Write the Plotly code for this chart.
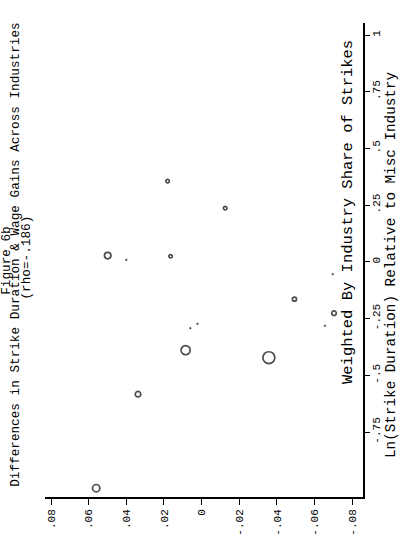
import plotly.graph_objects as go

# Data read from the (rotated) reference chart
wage_gain = [0.0560, 0.0338, 0.0085, -0.0357, -0.0493, -0.0703, -0.0125, 0.0181, 0.0165, 0.0499,
             0.0400, 0.0060, 0.0022, -0.0696, -0.0655]
ln_duration = [-0.997, -0.583, -0.389, -0.422, -0.164, -0.226, 0.237, 0.356, 0.025, 0.028,
               0.009, -0.292, -0.273, -0.054, -0.281]
strike_share = [0.064, 0.036, 0.100, 0.170, 0.020, 0.025, 0.014, 0.014, 0.014, 0.050,
                0.003, 0.003, 0.003, 0.003, 0.003]

wage_ticks = [0.08, 0.06, 0.04, 0.02, 0, -0.02, -0.04, -0.06, -0.08]
wage_ticktext = [".08", ".06", ".04", ".02", "0", "-.02", "-.04", "-.06", "-.08"]
dur_ticks = [1, 0.75, 0.5, 0.25, 0, -0.25, -0.5, -0.75]
dur_ticktext = ["1", ".75", ".5", ".25", "0", "-.25", "-.5", "-.75"]

title_lines = ["Figure 6b",
               "Differences in Strike Duration & Wage Gains Across Industries",
               "(rho=-.186)"]
x_title = "Ln(Strike Duration) Relative to Misc Industry"
weight_note = "Weighted By Industry Share of Strikes"

FONT = "Liberation Mono"

line_w = [1.7 if s > 0.005 else 0.8 for s in strike_share]
fill = ["white" if s > 0.005 else "black" for s in strike_share]

fig = go.Figure()
fig.add_trace(go.Scatter(
    x=wage_gain, y=ln_duration, mode="markers",
    marker=dict(size=strike_share, sizemode="area", sizeref=0.0024,
                color=fill, line=dict(color="black", width=line_w)),
    showlegend=False, hoverinfo="skip"))

fig.update_layout(
    template="none",
    width=401, height=542,
    margin=dict(l=45, r=38, t=23, b=45, autoexpand=False),
    paper_bgcolor="white", plot_bgcolor="white",
    font=dict(family=FONT, color="black", size=13),
    xaxis=dict(range=[0.0832, -0.0857], tickvals=wage_ticks, ticktext=wage_ticktext,
               tickangle=-90, ticks="outside", ticklen=6, tickwidth=1.4, tickcolor="black",
               showline=True, linecolor="black", linewidth=1.7, showgrid=False,
               zeroline=False, automargin=False, tickfont=dict(size=11, family=FONT)),
    yaxis=dict(range=[-1.036, 1.053], tickvals=dur_ticks, ticktext=dur_ticktext, side="right",
               tickangle=-90, ticks="outside", ticklen=5, tickwidth=1.4, tickcolor="black",
               ticklabelstandoff=-3,
               showline=True, linecolor="black", linewidth=1.7, showgrid=False,
               zeroline=False, automargin=False, tickfont=dict(size=11, family=FONT)),
)

def px2paper_x(px):
    return (px - 45) / 318.0

def px2paper_y(py):
    return (497 - py) / 474.0

ann = []
for line, cx, cy in zip(title_lines, [5.8, 14.8, 25.5], [260, 255, 258]):
    ann.append(dict(text=line, x=px2paper_x(cx), y=px2paper_y(cy), xref="paper", yref="paper",
                    textangle=-90, showarrow=False, xanchor="center", yanchor="middle",
                    font=dict(size=12.7, family=FONT)))
ann.append(dict(text=weight_note, x=px2paper_x(348), y=px2paper_y(212), xref="paper", yref="paper",
                textangle=-90, showarrow=False, xanchor="center", yanchor="middle",
                font=dict(size=15.5, family=FONT)))
ann.append(dict(text=x_title, x=px2paper_x(391), y=px2paper_y(265), xref="paper", yref="paper",
                textangle=-90, showarrow=False, xanchor="center", yanchor="middle",
                font=dict(size=14.3, family=FONT)))
fig.update_layout(annotations=ann)

# remove the browser's default 8px body margin so the figure fills the window exactly
fig.write_html("out.html", config={"displayModeBar": False},
               post_script="document.body.style.margin='0';")
